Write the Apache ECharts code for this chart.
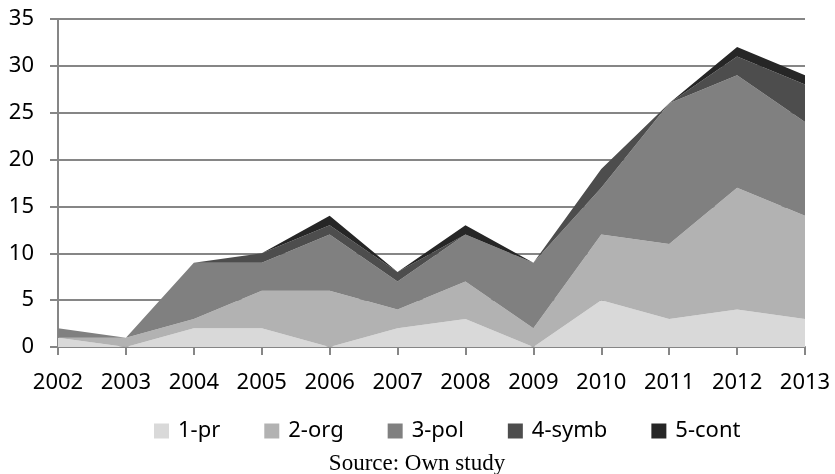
<!DOCTYPE html>
<html><head><meta charset="utf-8">
<script src="https://cdn.jsdelivr.net/npm/echarts@6/dist/echarts.min.js"></script>
<style>html,body{margin:0;padding:0;background:#fff}#c{width:835px;height:474px}</style>
</head><body><div id="c"></div>
<script>
const years = ['2002','2003','2004','2005','2006','2007','2008','2009','2010','2011','2012','2013'];
const pr   = [1,0,2,2,0,2,3,0,5,3,4,3];
const org  = [0,1,1,4,6,2,4,2,7,8,13,11];
const pol  = [1,0,6,3,6,3,5,7,5,15,12,10];
const symb = [0,0,0,1,1,1,0,0,2,0,2,4];
const cont = [0,0,0,0,1,0,1,0,0,0,1,1];
const names = ['1-pr','2-org','3-pol','4-symb','5-cont'];
const colors = ['#d9d9d9','#b2b2b2','#808080','#4d4d4d','#262626'];
const yTicks = [0,5,10,15,20,25,30,35];
const all = [pr,org,pol,symb,cont];
const chart = echarts.init(document.getElementById('c'));
chart.setOption({
  animation:false,
  color:colors,
  grid:{left:58,right:30,top:19,bottom:127},
  title:{text:'Source: Own study',left:412,textAlign:'center',top:447,textStyle:{fontFamily:'Liberation Serif',fontSize:23,fontWeight:'normal',color:'#000'}},
  legend:{left:149,top:415,itemWidth:15,itemHeight:15,itemGap:44,icon:'rect',
    textStyle:{fontFamily:'Noto Sans',fontSize:22,color:'#000',padding:[0,0,0,4]},data:names},
  xAxis:{type:'category',data:years,boundaryGap:false,
    axisLine:{lineStyle:{color:'#868686',width:2}},
    axisTick:{show:true,length:8,lineStyle:{color:'#868686',width:2}},
    axisLabel:{fontFamily:'Noto Sans',fontSize:22,color:'#000',margin:25,interval:0}},
  yAxis:{type:'value',min:0,max:35,interval:5,
    axisLine:{show:true,lineStyle:{color:'#868686',width:2}},
    axisTick:{show:true,length:8,lineStyle:{color:'#868686',width:2}},
    splitLine:{lineStyle:{color:'#868686',width:2}},
    axisLabel:{fontFamily:'Noto Sans',fontSize:22,color:'#000',margin:24,
      formatter:v=>yTicks.includes(v)?String(v):''}},
  series:all.map((d,i)=>({name:names[i],type:'line',stack:'s',data:d,symbol:'none',
    lineStyle:{width:0},areaStyle:{color:colors[i],opacity:1},itemStyle:{color:colors[i]}}))
});
</script></body></html>
